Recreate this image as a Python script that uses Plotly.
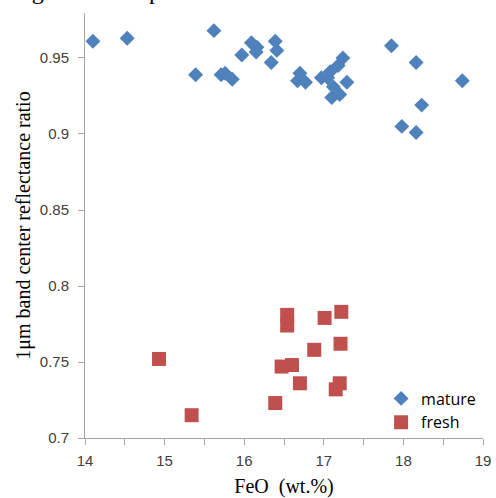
import plotly.graph_objects as go

mature_feo = [14.10, 14.53, 15.62, 15.39, 15.71, 15.76, 15.85, 15.97, 16.09, 16.16,
              16.15, 16.39, 16.41, 16.34, 16.70, 16.67, 16.77, 16.97, 17.08, 17.18,
              17.24, 17.10, 17.20, 17.29, 17.12, 17.05, 17.85, 18.16, 18.74, 18.23,
              17.98, 18.16]
mature_ratio = [0.961, 0.963, 0.968, 0.939, 0.939, 0.940, 0.936, 0.952, 0.960, 0.957,
                0.954, 0.961, 0.955, 0.947, 0.940, 0.935, 0.934, 0.937, 0.941, 0.945,
                0.950, 0.924, 0.926, 0.934, 0.931, 0.937, 0.958, 0.947, 0.935, 0.919,
                0.905, 0.901]

fresh_feo = [14.93, 15.34, 16.39, 16.47, 16.60, 16.70, 16.54, 16.54, 17.01, 16.88,
             17.22, 17.21, 17.20, 17.15]
fresh_ratio = [0.752, 0.715, 0.723, 0.747, 0.748, 0.736, 0.781, 0.774, 0.779, 0.758,
               0.783, 0.762, 0.736, 0.732]

x_ticks = [14, 15, 16, 17, 18, 19]
y_ticks = [0.7, 0.75, 0.8, 0.85, 0.9, 0.95]
y_tick_labels = ["0.7", "0.75", "0.8", "0.85", "0.9", "0.95"]

fig = go.Figure()
fig.add_trace(go.Scatter(
    x=mature_feo, y=mature_ratio, mode="markers", name="mature",
    marker=dict(symbol="diamond", size=11.5, color="#4F81BD", line=dict(width=0)),
))
fig.add_trace(go.Scatter(
    x=fresh_feo, y=fresh_ratio, mode="markers", name="fresh",
    marker=dict(symbol="square", size=14, color="#C0504D", line=dict(width=0)),
))

axis_color = "#A6A6A6"
tick_font = dict(family="Liberation Sans, Arial, sans-serif", size=15, color="#404040")
title_font = dict(family="Liberation Serif, Times New Roman, serif", size=20, color="#000000")

fig.update_layout(
    width=496, height=498,
    margin=dict(l=85, r=13, t=13, b=60, autoexpand=False),
    paper_bgcolor="white", plot_bgcolor="white",
    showlegend=True,
    legend=dict(x=0.744, y=0.133, xanchor="left", yanchor="top",
                font=dict(family="Open Sans, Liberation Sans, sans-serif", size=16, color="#000000"),
                bgcolor="rgba(0,0,0,0)", itemwidth=30, tracegroupgap=0),
    xaxis=dict(range=[14, 19], tickvals=x_ticks, ticktext=[str(v) for v in x_ticks],
               showgrid=False, zeroline=False, showline=True, linecolor=axis_color, linewidth=1,
               ticks="outside", ticklen=6, tickcolor=axis_color, tickfont=tick_font,
               ticklabelstandoff=3,
               minor=dict(dtick=0.5, ticks="outside", ticklen=6, tickcolor=axis_color, showgrid=False),
               title=dict(text="FeO  (wt.%)", font=title_font, standoff=10)),
    yaxis=dict(range=[0.7, 0.9796], tickvals=y_ticks, ticktext=y_tick_labels,
               showgrid=False, zeroline=False, showline=True, linecolor=axis_color, linewidth=1,
               ticks="outside", ticklen=6, tickcolor=axis_color, tickfont=tick_font,
               ticklabelstandoff=6,
               title=dict(text="1μm band center reflectance ratio", font=title_font, standoff=3)),
    annotations=[dict(text="degree be compared.", xref="paper", yref="paper",
                      x=(7 - 85) / 398, y=1, xanchor="left", yanchor="bottom", yshift=7,
                      showarrow=False,
                      font=dict(family="Liberation Serif, serif", size=24, color="#000000"))],
)

fig.write_html("out.html")
